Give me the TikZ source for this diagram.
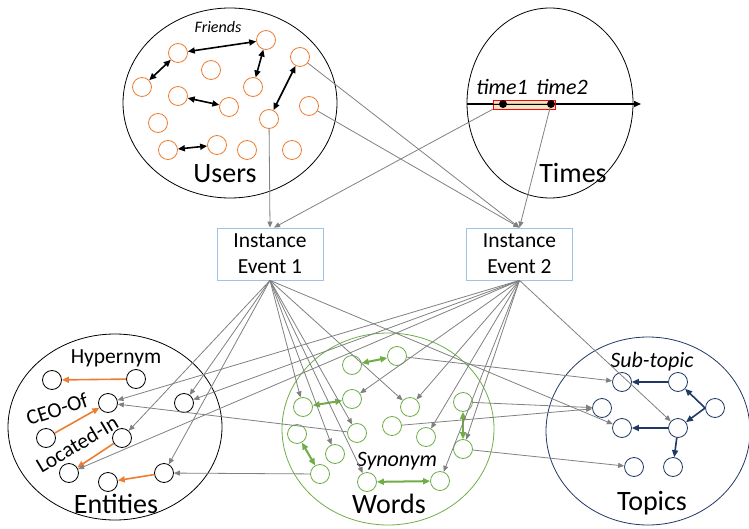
\documentclass[tikz,border=0pt]{standalone}
\usepackage{fontspec}
\setmainfont{Carlito}
\usetikzlibrary{arrows.meta}

\definecolor{userorange}{RGB}{237,125,49}
\definecolor{wordgreen}{RGB}{112,173,71}
\definecolor{topicblue}{RGB}{31,56,100}
\definecolor{boxblue}{RGB}{157,195,230}
\definecolor{spanfill}{RGB}{240,226,186}
\definecolor{linkgray}{RGB}{128,128,128}

\begin{document}
\begin{tikzpicture}[x=1pt, y=-1pt,
    dot/.style={circle, draw, minimum size=19pt, inner sep=0pt, line width=0.8pt},
    user/.style={dot, draw=userorange},
    entity/.style={dot, draw=black},
    word/.style={dot, draw=wordgreen},
    topic/.style={dot, draw=topicblue},
    event/.style={draw=boxblue, line width=0.8pt, align=center, minimum width=106pt,
        minimum height=52pt, inner sep=1pt, font=\fontsize{21.5}{26}\selectfont},
    link/.style={draw=linkgray, line width=0.8pt, -{Triangle[length=6pt,width=5pt]}},
    friend/.style={line width=1.6pt, {Triangle[length=7pt,width=6pt]}-{Triangle[length=7pt,width=6pt]}},
    hyper/.style={draw=userorange, line width=1.6pt, -{Triangle[length=7pt,width=6pt]}},
    synonym/.style={draw=wordgreen, line width=2pt, {Triangle[length=7pt,width=6pt]}-{Triangle[length=7pt,width=6pt]}},
    subtopic/.style={draw=topicblue, line width=1.6pt, -{Triangle[length=7pt,width=6pt]}},
    setname/.style={anchor=base, font=\fontsize{28}{32}\selectfont},
    relname/.style={font=\fontsize{21.5}{25}\selectfont},
    relitalic/.style={anchor=base, font=\itshape\fontsize{22}{26}\selectfont}]

    \useasboundingbox (0,0) rectangle (749,529);

    % Draw sets
    \draw[line width=0.8pt] (230,103) ellipse [x radius=107pt, y radius=95pt];
    \draw[line width=0.8pt] (550,103) ellipse [x radius=83pt, y radius=95pt];
    \draw[line width=0.8pt] (115,427) ellipse [x radius=107pt, y radius=93pt];
    \draw[wordgreen, line width=0.8pt] (388,429) ellipse [x radius=106pt, y radius=96pt];
    \draw[topicblue, line width=0.8pt] (648,431) ellipse [x radius=102pt, y radius=94pt];

    % Draw users
    \node[user] (u1) at (178,53) {};
    \node[user] (u2) at (266,40) {};
    \node[user] (u3) at (300,57) {};
    \node[user] (u4) at (211,70) {};
    \node[user] (u5) at (142,87) {};
    \node[user] (u6) at (253,87) {};
    \node[user] (u7) at (178,96) {};
    \node[user] (u8) at (229,107) {};
    \node[user] (u9) at (309,106) {};
    \node[user] (u10) at (158,123) {};
    \node[user] (u11) at (269,119) {};
    \node[user] (u12) at (168,150) {};
    \node[user] (u13) at (217,145) {};
    \node[user] (u14) at (247,150) {};
    \node[user] (u15) at (292,150) {};
    \node[anchor=base, font=\itshape\fontsize{16}{19}\selectfont] (friends) at (218,33) {Friends};
    \node[setname] (users) at (225,183) {Users};

    % Draw time axis
    \coordinate (axisL) at (467,104);
    \coordinate (axisR) at (641,104);
    \draw[line width=1.4pt, -{Triangle[length=7pt,width=6pt]}] (axisL) -- (axisR);
    \node[draw=red, fill=spanfill, fill opacity=0.85, minimum width=62pt, minimum height=9pt,
        inner sep=0pt, line width=0.6pt] (span) at (524,104.5) {};
    \draw[line width=1pt] (span.west) -- (span.east);
    \node[circle, fill=black, inner sep=0pt, minimum size=8pt] (tp1) at (503,104) {};
    \node[circle, fill=black, inner sep=0pt, minimum size=8pt] (tp2) at (551,104) {};
    \node[relitalic] (time1) at (502,95) {time1};
    \node[relitalic] (time2) at (562,95) {time2};
    \node[setname] (times) at (573,183) {Times};

    % Draw instance events
    \node[event] (ev1) at (270,254) {Instance\\Event 1};
    \node[event] (ev2) at (519.5,254) {Instance\\Event 2};

    % Draw entities
    \node[entity] (e1) at (52,380) {};
    \node[entity] (e2) at (136,379) {};
    \node[entity] (e3) at (108,403) {};
    \node[entity] (e4) at (184,403) {};
    \node[entity] (e5) at (46,438) {};
    \node[entity] (e6) at (122,438) {};
    \node[entity] (e7) at (69,473) {};
    \node[entity] (e8) at (164,473) {};
    \node[entity] (e9) at (108,482) {};
    \node[relname, anchor=base] (hypernym) at (116,363) {Hypernym};
    \node[relname, rotate=18, inner sep=0pt] (ceoof) at (57,409) {CEO-Of};
    \node[relname, rotate=31, inner sep=0pt] (locatedin) at (77,444) {Located-In};
    \node[setname] (entities) at (116,513) {Entities};

    % Draw words
    \node[word] (w1) at (352,365) {};
    \node[word] (w2) at (397,356) {};
    \node[word] (w3) at (303,407) {};
    \node[word] (w4) at (352,399) {};
    \node[word] (w5) at (410,407) {};
    \node[word] (w6) at (463,402) {};
    \node[word] (w7) at (392,426) {};
    \node[word] (w8) at (426,437) {};
    \node[word] (w9) at (357,433) {};
    \node[word] (w10) at (297,434) {};
    \node[word] (w11) at (335,454) {};
    \node[word] (w12) at (463,449) {};
    \node[word] (w13) at (320,474) {};
    \node[word] (w14) at (367,482) {};
    \node[word] (w15) at (440,481) {};
    \node[relitalic] (synonymlabel) at (397,466) {Synonym};
    \node[setname] (words) at (389,513) {Words};

    % Draw topics
    \node[topic] (t1) at (622,382) {};
    \node[topic] (t2) at (678,382) {};
    \node[topic] (t3) at (602,408) {};
    \node[topic] (t4) at (715,408) {};
    \node[topic] (t5) at (622,428) {};
    \node[topic] (t6) at (678,428) {};
    \node[topic] (t7) at (634,467) {};
    \node[topic] (t8) at (673,467) {};
    \node[relitalic] (subtopiclabel) at (652,367) {Sub-topic};
    \node[setname] (topics) at (652,510) {Topics};

    % Draw relations inside sets
    \draw[friend] (u1) -- (u2);
    \draw[friend] (u1) -- (u5);
    \draw[friend] (u2) -- (u6);
    \draw[friend] (u3) -- (u11);
    \draw[friend] (u7) -- (u8);
    \draw[friend] (u12) -- (u13);
    \draw[hyper] (e2) -- (e1);
    \draw[hyper] (e5) -- (e3);
    \draw[hyper] (e6) -- (e7);
    \draw[hyper] (e8) -- (e9);
    \draw[synonym] (w1) -- (w2);
    \draw[synonym] (w3) -- (w4);
    \draw[synonym] (w6) -- (w12);
    \draw[synonym] (w10) -- (w13);
    \draw[synonym] (w14) -- (w15);
    \draw[subtopic] (t2) -- (t1);
    \draw[subtopic] (t4.west) -- (t2);
    \draw[subtopic] (t4.west) -- (t6);
    \draw[subtopic] (t6) -- (t5);
    \draw[subtopic] (t6) -- (t8);

    % Draw links to instance events
    \draw[link] (u11) -- (ev1.north);
    \draw[link] (span.south west) -- ([xshift=4pt]ev1.north);
    \draw[link] (u3) -- (ev2.north);
    \draw[link] (u9) -- (ev2.north);
    \draw[link] (tp2) -- (ev2.north);

    % Draw links from instance event 1
    \draw[link] (ev1.south) -- (e4);
    \draw[link] (ev1.south) -- (e6);
    \draw[link] (ev1.south) -- (e8);
    \draw[link] (ev1.south) -- (w3);
    \draw[link] (ev1.south) -- (w9);
    \draw[link] (ev1.south) -- (w11);
    \draw[link] (ev1.south) -- (w14);
    \draw[link] (ev1.south) -- (w5);
    \draw[link] (ev1.south) -- (t5);

    % Draw links from instance event 2
    \draw[link] (ev2.south) -- (e3);
    \draw[link] (ev2.south) -- (e4);
    \draw[link] (ev2.south) -- (e7);
    \draw[link] (ev2.south) -- (w4);
    \draw[link] (ev2.south) -- (w5);
    \draw[link] (ev2.south) -- (w8);
    \draw[link] (ev2.south) -- (w12);
    \draw[link] (ev2.south) -- (w15);
    \draw[link] (ev2.south) -- (t6);

    % Draw links between sets
    \draw[link] (w9) -- (e3);
    \draw[link] (w13) -- (e8);
    \draw[link] (w2) -- (t1);
    \draw[link] (w6) -- (t3);
    \draw[link] (w7) -- (t3);
    \draw[link] (w12) -- (t7);
\end{tikzpicture}
\end{document}
